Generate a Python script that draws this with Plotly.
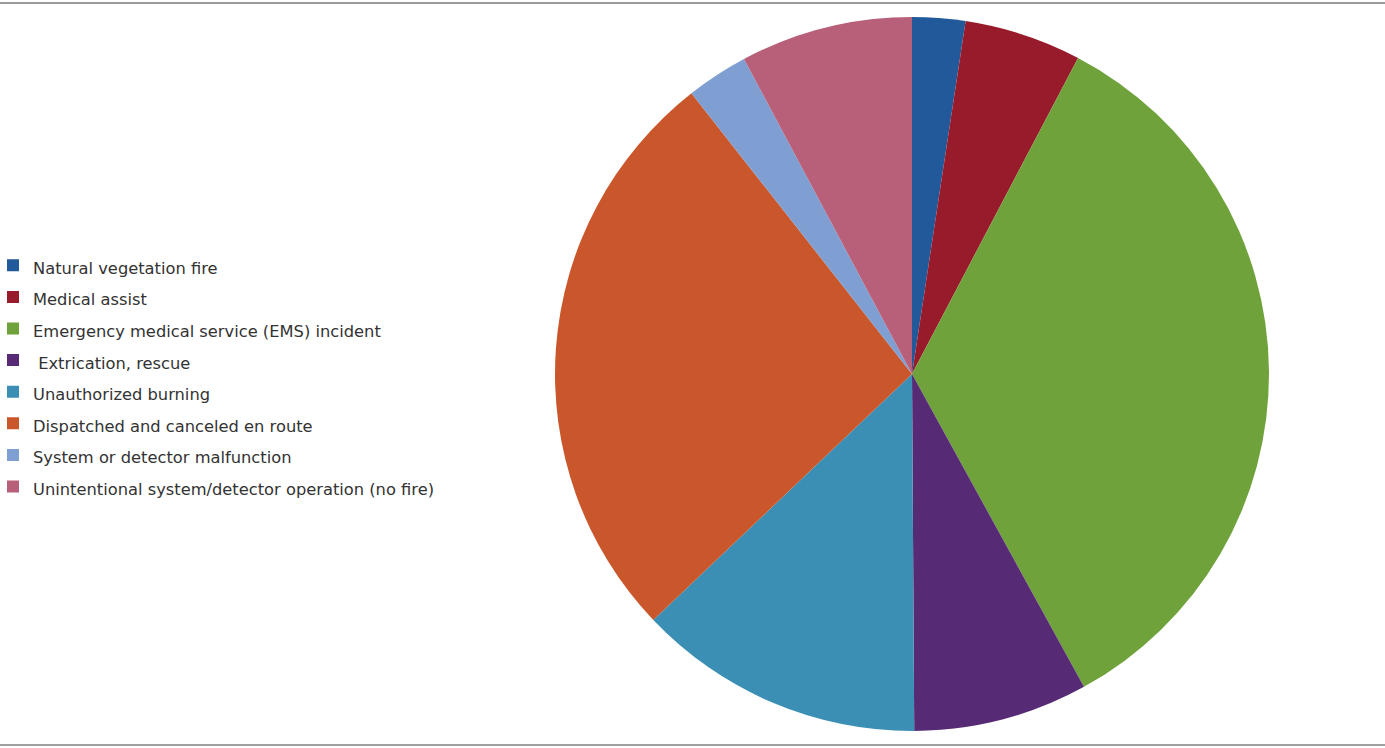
import plotly.graph_objects as go

categories = [
    "Natural vegetation fire",
    "Medical assist",
    "Emergency medical service (EMS) incident",
    " Extrication, rescue",
    "Unauthorized burning",
    "Dispatched and canceled en route",
    "System or detector malfunction",
    "Unintentional system/detector operation (no fire)",
]
values = [2.4, 5.3, 34.3, 7.9, 13.0, 26.5, 2.8, 7.8]
colors = ["#22599a", "#981b2b", "#6fa23b", "#572a76", "#3b8fb4", "#c9572b", "#7f9fd2", "#b85f79"]

labels_html = ["<span style='font-size:16.3px'>%s</span>" % c for c in categories]

cx, cy, r = 912, 374, 357

fig = go.Figure(
    go.Pie(
        labels=labels_html,
        values=values,
        sort=False,
        direction="clockwise",
        rotation=0,
        marker=dict(colors=colors, line=dict(width=0)),
        textinfo="none",
        domain=dict(x=[(cx - r) / 1385, (cx + r) / 1385], y=[1 - (cy + r) / 748, 1 - (cy - r) / 748]),
        hoverinfo="label+value",
    )
)

fig.update_layout(
    width=1385,
    height=748,
    margin=dict(l=0, r=0, t=0, b=0, autoexpand=False),
    paper_bgcolor="white",
    plot_bgcolor="white",
    showlegend=True,
    legend=dict(
        x=-7 / 1385,
        xanchor="left",
        y=1 - 376 / 748,
        yanchor="middle",
        font=dict(family="DejaVu Sans, Verdana, sans-serif", size=22, color="#333333"),
        bgcolor="rgba(0,0,0,0)",
        itemwidth=30,
    ),
    shapes=[
        dict(type="line", xref="paper", yref="paper", x0=0, x1=1, y0=1 - 3 / 748, y1=1 - 3 / 748,
             line=dict(color="#9a9a9a", width=2)),
        dict(type="line", xref="paper", yref="paper", x0=0, x1=1, y0=1 - 745 / 748, y1=1 - 745 / 748,
             line=dict(color="#a0a0a0", width=2)),
    ],
)

fig.write_html(
    "out.html",
    config={"displayModeBar": False},
    post_script="document.body.style.margin='0';document.body.style.overflow='hidden';",
)
